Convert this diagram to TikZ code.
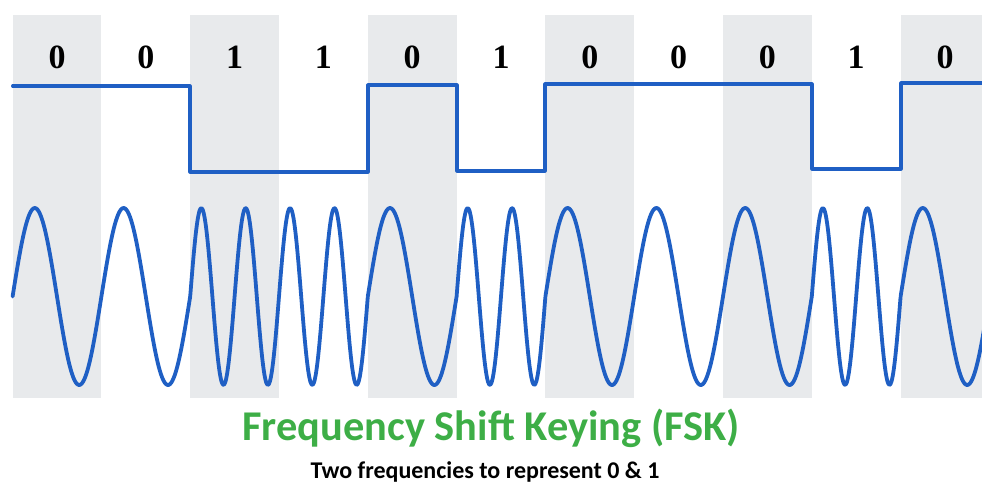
\documentclass[tikz,border=0pt]{standalone}
\usepackage{fontspec}
\setmainfont{Liberation Serif}
\newfontfamily\calibrifont{Carlito}
\usepackage{tikz}
\usepackage{xcolor}
\usetikzlibrary{positioning}
\definecolor{signalblue}{HTML}{1F5FC4}
\definecolor{slotgray}{HTML}{E8EAEC}
\definecolor{titlegreen}{HTML}{3DAE46}

\begin{document}
\begin{tikzpicture}[x=0.5pt, y=-0.5pt,
    bit/.style={font=\fontsize{17}{17}\selectfont\bfseries, inner sep=0pt},
    wave/.style={signalblue, line width=1.9pt, line cap=round, line join=round}]
    \useasboundingbox (0,0) rectangle (982,484);
    \clip (0,0) rectangle (982,484);
    % shaded bit slots
    \foreach \i in {0,2,...,10}
        \fill[slotgray] ({12.6+88.8*\i},15) rectangle ({12.6+88.8*(\i+1)},398);
    % bit labels
    \foreach \b [count=\i from 0] in {0,0,1,1,0,1,0,0,0,1,0}
        \node[bit] (bit\i) at ({57+88.8*\i},57) {\b};
    % digital signal
    \draw[wave, line width=1.6pt] (12.6,86) -| (190,172) -| (368,85) -| (457,171)
        -| (545,84) -| (812,169) -| (901,83) -- (982,83);
    % FSK signal, one cycle for 0, two for 1
    \foreach \b [count=\i from 0] in {0,0,1,1,0,1,0,0,0,1,0}
        \draw[wave] plot[domain=0:1, samples=80, smooth]
            ({12.6+88.8*(\i+\x)}, {296.5-88.5*sin(360*(\b+1)*\x)});
    \node[titlegreen, font=\calibrifont\fontsize{21.2}{21.2}\selectfont\bfseries, anchor=base]
        (title) at (491,440) {Frequency Shift Keying (FSK)};
    \node[font=\calibrifont\fontsize{12}{12}\selectfont\bfseries, anchor=base]
        (subtitle) at (485,478) {Two frequencies to represent 0 \& 1};
\end{tikzpicture}
\end{document}
